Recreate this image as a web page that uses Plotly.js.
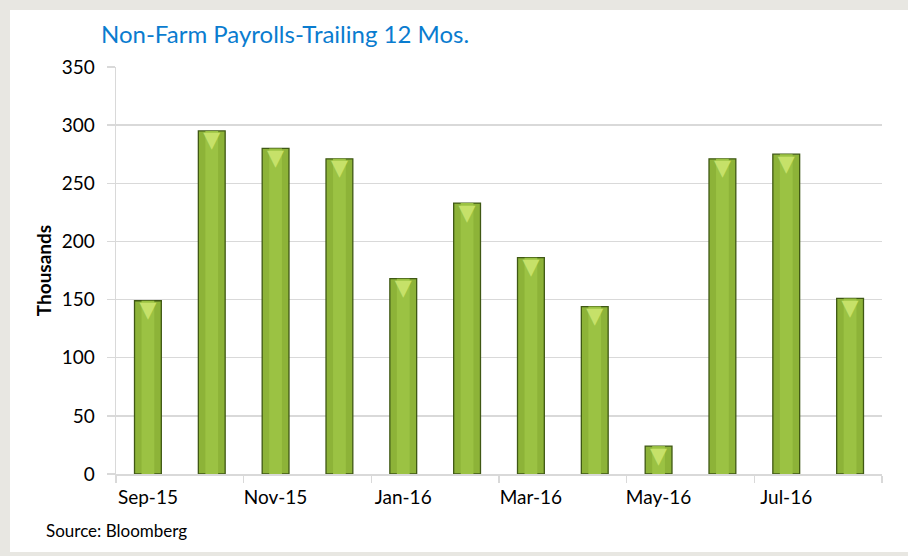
<!DOCTYPE html>
<html>
<head>
<meta charset="utf-8">
<script src="https://cdn.plot.ly/plotly-3.0.1.min.js"></script>
<style>
  html, body { margin: 0; padding: 0; background: #e8e7e2; }
  #panel { position: absolute; left: 10px; top: 10px; width: 898px; height: 542px; background: #ffffff; }
  #chart { position: absolute; left: 0; top: 0; width: 908px; height: 556px; }
</style>
</head>
<body>
<div id="panel"></div>
<div id="chart"></div>
<script>
const months = ["Sep-15","Oct-15","Nov-15","Dec-15","Jan-16","Feb-16","Mar-16","Apr-16","May-16","Jun-16","Jul-16","Aug-16"];
const payrolls = [149, 295, 280, 271, 168, 233, 186, 144, 24, 271, 275, 151];
const yTicks = [0, 50, 100, 150, 200, 250, 300, 350];
const chartTitle = "Non-Farm Payrolls-Trailing 12 Mos.";
const yTitle = "Thousands";
const sourceNote = "Source: Bloomberg";

const FONT = "Lato, 'Open Sans', sans-serif";

const bars = {
  type: "bar",
  x: months,
  y: payrolls,
  width: 0.42,
  marker: { color: "#8db338", line: { color: "#3f5814", width: 1.3 } },
  hoverinfo: "x+y"
};
const stripe = {
  type: "bar",
  x: months,
  y: payrolls,
  width: 0.2,
  marker: { color: "#9bc243", line: { width: 0 } },
  hoverinfo: "skip"
};
const caps = {
  type: "scatter",
  mode: "text",
  x: months,
  y: payrolls,
  text: months.map(() => "▼"),
  textposition: "bottom center",
  textfont: { family: "DejaVu Sans", size: 22, color: "#c6e169" },
  hoverinfo: "skip"
};

const layout = {
  width: 908,
  height: 556,
  paper_bgcolor: "rgba(0,0,0,0)",
  plot_bgcolor: "rgba(0,0,0,0)",
  showlegend: false,
  barmode: "overlay",
  margin: { l: 116, r: 26, t: 67, b: 82 },
  font: { family: FONT, color: "#000000", size: 19 },
  title: {
    text: chartTitle,
    xref: "container", yref: "container",
    x: 101 / 908, xanchor: "left",
    y: 1 - 35 / 556, yanchor: "middle",
    font: { family: FONT, size: 24, color: "#0a7ccf" }
  },
  xaxis: {
    type: "category",
    categoryorder: "array",
    categoryarray: months,
    tickmode: "linear",
    dtick: 2,
    tickson: "boundaries",
    tickangle: 0,
    ticks: "outside",
    ticklen: 7,
    tickcolor: "#d9d9d9",
    tickwidth: 1.5,
    ticklabelstandoff: 6,
    showgrid: false,
    showline: true,
    linecolor: "#d9d9d9",
    linewidth: 1.5,
    tickfont: { family: FONT, size: 19, color: "#000" },
    range: [-0.5, 11.5],
    fixedrange: true
  },
  yaxis: {
    range: [0, 350],
    tickvals: yTicks,
    ticks: "outside",
    ticklen: 8,
    tickcolor: "#d9d9d9",
    tickwidth: 1.5,
    ticklabelstandoff: 8,
    showgrid: true,
    gridcolor: "#d9d9d9",
    gridwidth: 1.5,
    showline: true,
    linecolor: "#d9d9d9",
    linewidth: 1.5,
    zeroline: false,
    tickfont: { family: FONT, size: 19, color: "#000" },
    title: { text: "<b>" + yTitle + "</b>", font: { family: FONT, size: 19, color: "#000" }, standoff: 5 },
    fixedrange: true
  },
  annotations: [{
    text: sourceNote,
    xref: "paper", yref: "paper",
    x: (44 - 116) / 766, xanchor: "left",
    y: -(530 - 474) / 407, yanchor: "middle",
    showarrow: false,
    font: { family: FONT, size: 17, color: "#000" }
  }]
};

Plotly.newPlot("chart", [bars, stripe, caps], layout, { displayModeBar: false, staticPlot: true });
</script>
</body>
</html>
